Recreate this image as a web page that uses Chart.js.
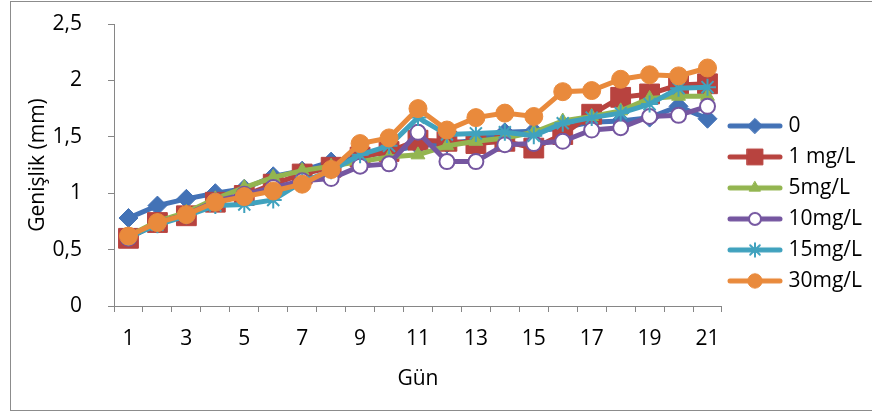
<!DOCTYPE html>
<html><head><meta charset="utf-8">
<script src="https://cdn.jsdelivr.net/npm/chart.js@4/dist/chart.umd.min.js"></script>
<style>
html,body{margin:0;padding:0;background:#fff;}
#wrap{position:relative;width:872px;height:414px;overflow:hidden;}
#frame{position:absolute;left:10px;top:1px;width:880px;height:408px;border:1px solid #8c8c8c;}
#c{position:absolute;left:0;top:0;}
</style></head><body>
<div id="wrap"><div id="frame"></div><canvas id="c" width="872" height="414"></canvas></div>
<script>
const days = ['1','2','3','4','5','6','7','8','9','10','11','12','13','14','15','16','17','18','19','20','21'];
const seriesNames = ['0','1 mg/L','5mg/L','10mg/L','15mg/L','30mg/L'];
const v0   = [0.78,0.89,0.95,1.00,1.04,1.15,1.20,1.28,1.32,1.37,1.42,1.44,1.47,1.54,1.55,1.58,1.63,1.64,1.67,1.77,1.66];
const v1   = [0.60,0.74,0.80,0.92,0.98,1.08,1.17,1.23,1.32,1.37,1.47,1.46,1.44,1.46,1.40,1.52,1.70,1.85,1.88,1.96,1.97];
const v5   = [0.62,0.75,0.83,0.95,1.05,1.14,1.20,1.24,1.28,1.32,1.34,1.42,1.46,1.49,1.54,1.64,1.68,1.73,1.84,1.86,1.86];
const v10  = [0.60,0.74,0.81,0.93,0.99,1.05,1.11,1.13,1.24,1.26,1.54,1.28,1.28,1.43,1.44,1.46,1.56,1.58,1.68,1.69,1.77];
const v15  = [0.61,0.72,0.80,0.89,0.90,0.94,1.10,1.20,1.34,1.42,1.67,1.52,1.53,1.54,1.51,1.62,1.67,1.71,1.79,1.93,1.94];
const v30  = [0.62,0.74,0.81,0.92,0.97,1.02,1.08,1.21,1.44,1.49,1.75,1.56,1.67,1.71,1.68,1.90,1.91,2.01,2.05,2.04,2.11];
const yTicks = [0,0.5,1,1.5,2,2.5];

const FONT = "'Open Sans', 'Noto Sans', sans-serif";
const styles = [
  {color:'#4372B6', point:'rectRot', r:9.5, fill:null, bw:1},
  {color:'#B8433F', point:'rect', r:14, fill:null, bw:1},
  {color:'#93B550', point:'triangle', r:8, fill:null, bw:1},
  {color:'#7556A0', point:'circle', r:7.5, fill:'#ffffff', bw:2},
  {color:'#40A2BE', point:'star', r:8.5, fill:null, bw:2},
  {color:'#E98A3C', point:'circle', r:9, fill:null, bw:1}
];
const values = [v0, v1, v5, v10, v15, v30];

function legendImage(st){
  const W = 56, H = 24;
  const cv = document.createElement('canvas');
  cv.width = W; cv.height = H;
  const ctx = cv.getContext('2d');
  ctx.strokeStyle = st.color; ctx.lineWidth = 5; ctx.lineCap = 'round';
  ctx.beginPath(); ctx.moveTo(3, H/2); ctx.lineTo(W-3, H/2); ctx.stroke();
  ctx.fillStyle = st.fill || st.color;
  ctx.strokeStyle = st.color;
  ctx.lineWidth = st.bw;
  Chart.helpers.drawPoint(ctx, {pointStyle: st.point, radius: st.r*0.8, borderWidth: st.bw, rotation:0}, W/2, H/2);
  return cv;
}

const datasets = values.map((vals, i) => ({
  label: seriesNames[i],
  data: vals,
  borderColor: styles[i].color,
  backgroundColor: styles[i].fill || styles[i].color,
  borderWidth: 5,
  pointStyle: styles[i].point,
  pointRadius: styles[i].r,
  pointBorderWidth: styles[i].bw,
  pointBorderColor: styles[i].color,
  pointBackgroundColor: styles[i].fill || styles[i].color,
  tension: 0,
  order: 6 - i,
  legendImg: legendImage(styles[i])
}));

new Chart(document.getElementById('c'), {
  type: 'line',
  data: { labels: days, datasets },
  options: {
    responsive: false,
    animation: false,
    events: [],
    layout: { padding: { left: 10, top: 24, right: 0, bottom: 21 } },
    plugins: {
      tooltip: { enabled: false },
      legend: {
        position: 'right',
        align: 'start',
        title: { display: true, text: '', font: { size: 12 }, padding: { top: 67, bottom: 0 } },
        labels: {
          usePointStyle: true,
          pointStyleWidth: 46,
          padding: 10,
          color: '#000',
          font: { family: FONT, size: 21 },
          sort: (a, b) => a.datasetIndex - b.datasetIndex,
          generateLabels: (chart) => chart.data.datasets.map((ds, i) => ({
            text: ds.label,
            datasetIndex: i,
            pointStyle: ds.legendImg,
            fillStyle: ds.borderColor,
            strokeStyle: ds.borderColor,
            lineWidth: 0,
            fontColor: '#000',
            hidden: false
          }))
        }
      }
    },
    scales: {
      x: {
        type: 'category',
        offset: true,
        grid: { display: true, drawOnChartArea: false, drawTicks: true, tickLength: 6, color: '#868686', offset: true },
        border: { display: true, color: '#868686', width: 1 },
        ticks: {
          autoSkip: false, maxRotation: 0, padding: 14, color: '#000',
          font: { family: FONT, size: 21 },
          callback: function(val, idx) { return idx % 2 === 0 ? this.getLabelForValue(val) : ''; }
        },
        title: { display: true, text: 'Gün', color: '#000', font: { family: FONT, size: 21 }, padding: { top: 0, bottom: 1 } },
        afterFit: (s) => { s.height = 87; }
      },
      y: {
        min: 0, max: 2.5,
        afterBuildTicks: (s) => { s.ticks = yTicks.map(v => ({ value: v })); },
        grid: { display: true, drawOnChartArea: false, drawTicks: true, tickLength: 6, color: '#868686' },
        border: { display: true, color: '#868686', width: 1 },
        ticks: {
          padding: 26, color: '#000',
          font: { family: FONT, size: 21 },
          callback: (v) => String(v).replace('.', ',')
        },
        title: { display: true, text: 'Genişlik (mm)', color: '#000', font: { family: FONT, size: 21 }, padding: { top: 15, bottom: 0 } },
        afterFit: (s) => { s.width = 104; s.paddingTop = 14; s.paddingBottom = 14; }
      }
    }
  }
});
</script>
</body></html>
